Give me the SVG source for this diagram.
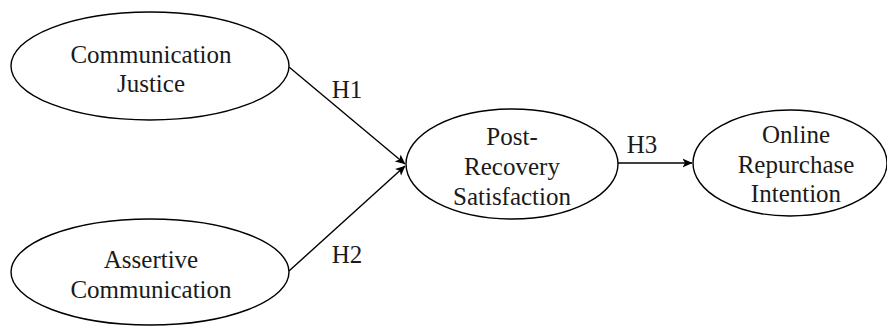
<svg xmlns="http://www.w3.org/2000/svg" width="887" height="327" viewBox="0 0 887 327">
<defs>
<marker id="arr" viewBox="0 0 10 10" refX="9.5" refY="5" markerWidth="10" markerHeight="10" markerUnits="userSpaceOnUse" orient="auto">
<path d="M0,0.5 L10,5 L0,9.5 L2.5,5 Z" fill="#000"/>
</marker>
</defs>
<style>
.n{fill:#fff;stroke:#000;stroke-width:1.4}
.t{font-family:"Liberation Serif","Times New Roman",serif;font-size:25px;fill:#1a1a1a;text-anchor:middle}
.c{stroke:#000;stroke-width:1.4;fill:none;marker-end:url(#arr)}
</style>
<rect width="887" height="327" fill="#fff"/>
<g id="connectors">
<line class="c" x1="289" y1="67" x2="405" y2="164"/>
<line class="c" x1="289" y1="271" x2="405" y2="166"/>
<line class="c" x1="618" y1="163" x2="692" y2="163"/>
<text class="t" x="347" y="98">H1</text>
<text class="t" x="347" y="263">H2</text>
<text class="t" x="642" y="153">H3</text>
</g>
<g id="communication-justice">
<ellipse class="n" cx="150" cy="66" rx="139" ry="54"/>
<text class="t" x="151" y="63">Communication</text>
<text class="t" x="151" y="92">Justice</text>
</g>
<g id="assertive-communication">
<ellipse class="n" cx="150" cy="272" rx="139" ry="53"/>
<text class="t" x="151" y="268">Assertive</text>
<text class="t" x="151" y="298">Communication</text>
</g>
<g id="post-recovery-satisfaction">
<ellipse class="n" cx="512" cy="164" rx="106" ry="55"/>
<text class="t" x="512" y="145">Post-</text>
<text class="t" x="512" y="175">Recovery</text>
<text class="t" x="512" y="205">Satisfaction</text>
</g>
<g id="online-repurchase-intention">
<ellipse class="n" cx="790" cy="163" rx="97" ry="53"/>
<text class="t" x="796" y="143">Online</text>
<text class="t" x="796" y="173">Repurchase</text>
<text class="t" x="796" y="202">Intention</text>
</g>
</svg>
